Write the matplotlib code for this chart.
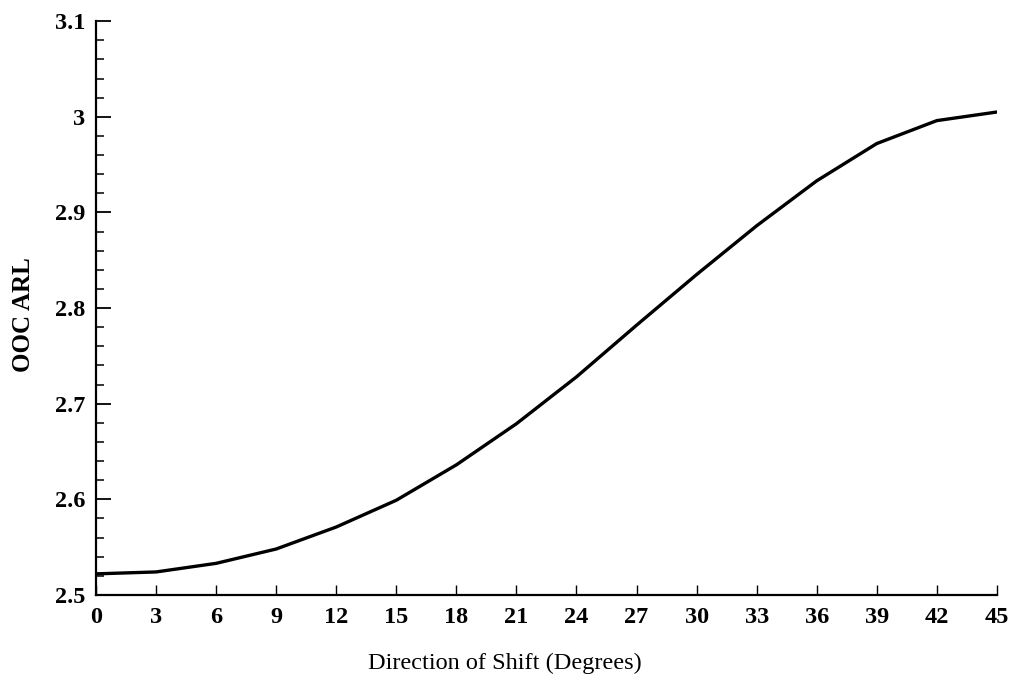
# import statements
import numpy as np
import matplotlib.pyplot as plt
from matplotlib.ticker import MultipleLocator

# data
direction = [0, 3, 6, 9, 12, 15, 18, 21, 24, 27, 30, 33, 36, 39, 42, 45]
ooc_arl = [2.522, 2.524, 2.533, 2.548, 2.571, 2.599, 2.636, 2.679, 2.728,
           2.782, 2.835, 2.886, 2.933, 2.972, 2.996, 3.005]
y_ticks = [2.5, 2.6, 2.7, 2.8, 2.9, 3.0, 3.1]
y_labels = ["2.5", "2.6", "2.7", "2.8", "2.9", "3", "3.1"]

plt.rcParams['font.family'] = ['Liberation Serif', 'DejaVu Serif']

fig = plt.figure(figsize=(10.11, 6.83), dpi=100)
ax = fig.add_axes([0.095, 0.129, 0.891, 0.840])

# the curve
ax.plot(direction, ooc_arl, color='black', lw=2.4)

ax.set_xlim(0, 45)
ax.set_ylim(2.5, 3.1)
ax.set_xticks(direction)
ax.set_yticks(y_ticks)
ax.set_yticklabels(y_labels)
ax.yaxis.set_minor_locator(MultipleLocator(0.02))

# only left and bottom spines
for side in ['top', 'right']:
    ax.spines[side].set_visible(False)
for side in ['left', 'bottom']:
    ax.spines[side].set_linewidth(1.6)

ax.tick_params(axis='y', which='major', direction='in', length=11, width=1.3,
               labelsize=17.5, pad=8)
ax.tick_params(axis='y', which='minor', direction='in', length=6, width=1.1)
ax.tick_params(axis='x', which='major', direction='in', length=7, width=1.0,
               labelsize=17.5, pad=9)
for lab in ax.get_xticklabels() + ax.get_yticklabels():
    lab.set_fontweight('bold')

# axis labels
fig.text(0.499, 0.021, "Direction of Shift (Degrees)", ha='center', va='baseline',
         fontsize=17.5)
fig.text(0.023, 0.539, "OOC ARL", ha='center', va='center', rotation=90,
         fontsize=18, fontweight='bold')

plt.savefig("out.png", dpi=100)
